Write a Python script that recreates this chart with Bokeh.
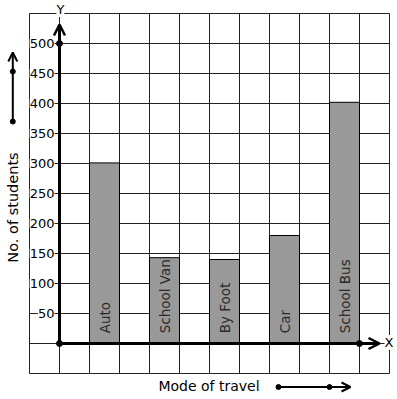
import math
from bokeh.plotting import figure
from bokeh.models import Range1d, Arrow, OpenHead, ColumnDataSource
from bokeh.core.properties import value
from bokeh.embed import file_html
from bokeh.resources import INLINE

# ---- data ----
categories = ["Auto", "School Van", "By Foot", "Car", "School Bus"]
students = [301, 143, 140, 180, 402]
y_ticks = [50, 100, 150, 200, 250, 300, 350, 400, 450, 500]
y_tick_labels = ["50", "100", "150", "200", "250", "300", "350", "400", "450", "500"]
x_title = "Mode of travel"
y_title = "No. of students"

FONT = value("DejaVu Sans")

# canvas geometry: one grid cell = 30 px wide, 50 students = 30 px tall
W, H = 397, 399
OX, OY = 59, 343          # pixel position of origin
CELL = 30.0
UNIT = 30.0 / 50.0        # px per student


def X(px):
    return (px - OX) / CELL


def Y(py):
    return (OY - py) / UNIT


p = figure(width=W, height=H, output_backend="svg", toolbar_location=None,
           x_range=Range1d(X(0), X(W)), y_range=Range1d(Y(H), Y(0)),
           min_border=0, x_axis_location=None, y_axis_location=None,
           outline_line_color=None, background_fill_color="white",
           border_fill_color="white")
p.grid.visible = False

# ---- grid (12 x 12 cells) ----
gx = list(range(-1, 12))
gy = list(range(-50, 551, 50))
p.segment(x0=gx, y0=[-50] * len(gx), x1=gx, y1=[550] * len(gx),
          line_color="#222222", line_width=1)
p.segment(x0=[-1] * len(gy), y0=gy, x1=[11] * len(gy), y1=gy,
          line_color="#222222", line_width=1)

# ---- bars ----
centers = [1.5 + 2 * i for i in range(len(categories))]
src = ColumnDataSource(dict(x=centers, top=students, cat=categories,
                            ly=[17] * len(categories)))
p.vbar(x="x", top="top", bottom=0, width=1, source=src,
       fill_color="#999999", line_color="black", line_width=1)
p.text(x="x", y="ly", text="cat", source=src, angle=math.pi / 2,
       text_align="left", text_baseline="middle", text_font=FONT,
       text_font_size="13.5px", text_color="#2a2a2a")

# ---- axes ----
p.add_layout(Arrow(end=OpenHead(size=11, line_width=2.5, line_color="black"),
                   x_start=0, y_start=0, x_end=0, y_end=Y(24),
                   line_width=3, line_color="black"))
p.add_layout(Arrow(end=OpenHead(size=11, line_width=2.5, line_color="black"),
                   x_start=0, y_start=0, x_end=X(379), y_end=0,
                   line_width=3, line_color="black"))
p.scatter(x=[0, 0, 10], y=[0, 500, 0], size=6, color="black")

# tick labels with white background (hide grid lines beneath)
p.text(x=[X(54)] * len(y_ticks), y=y_ticks, text=y_tick_labels,
       text_align="right", text_baseline="middle", text_font=FONT,
       text_font_size="13px", text_color="black",
       background_fill_color="white")

p.text(x=[0.03], y=[Y(9)], text=["Y"], text_align="center",
       text_baseline="middle", text_font=FONT, text_font_size="13px",
       text_color="black", background_fill_color="white")
p.text(x=[X(388.5)], y=[Y(342)], text=["X"], text_align="center",
       text_baseline="middle", text_font=FONT, text_font_size="13px",
       text_color="black", background_fill_color="white")

# ---- titles with decorative arrows ----
p.text(x=[X(208.5)], y=[Y(385)], text=[x_title], text_align="center",
       text_baseline="middle", text_font=FONT, text_font_size="14px",
       text_color="black")
p.text(x=[X(12)], y=[Y(207)], text=[y_title], angle=math.pi / 2,
       text_align="center", text_baseline="middle", text_font=FONT,
       text_font_size="14.5px", text_color="black")

p.add_layout(Arrow(end=OpenHead(size=9, line_width=2, line_color="black"),
                   x_start=X(278), y_start=Y(386.5), x_end=X(350), y_end=Y(386.5),
                   line_width=2, line_color="black"))
p.scatter(x=[X(278), X(329)], y=[Y(386.5), Y(386.5)], size=5, color="black")

p.add_layout(Arrow(end=OpenHead(size=9, line_width=2, line_color="black"),
                   x_start=X(12.3), y_start=Y(121), x_end=X(12.3), y_end=Y(52),
                   line_width=2, line_color="black"))
p.scatter(x=[X(12.3), X(12.3)], y=[Y(121), Y(71)], size=5, color="black")

open("out.html", "w").write(file_html(p, INLINE))
